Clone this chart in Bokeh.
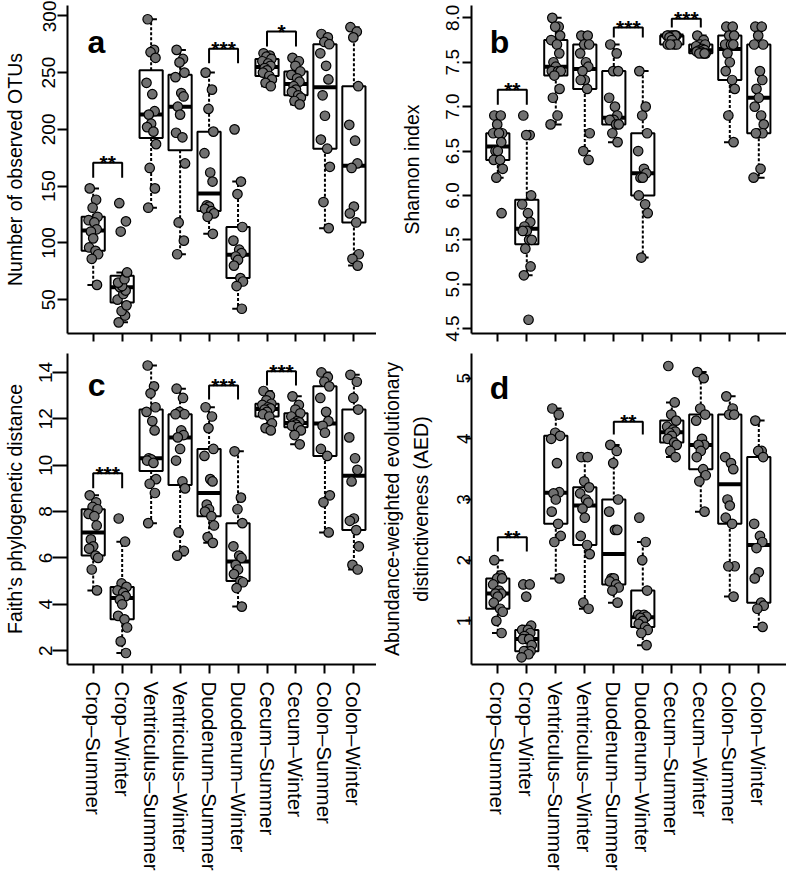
import math
from bokeh.plotting import figure
from bokeh.layouts import gridplot
from bokeh.models import FixedTicker, PrintfTickFormatter, Range1d
from bokeh.core.properties import value
from bokeh.embed import file_html
from bokeh.resources import INLINE

FONT = "Liberation Sans"

categories = ["Crop\u2013Summer", "Crop\u2013Winter", "Ventriculus\u2013Summer", "Ventriculus\u2013Winter",
              "Duodenum\u2013Summer", "Duodenum\u2013Winter", "Cecum\u2013Summer", "Cecum\u2013Winter",
              "Colon\u2013Summer", "Colon\u2013Winter"]

observed_otus = [
    [148, 138, 131, 123, 120, 118, 112, 110, 104, 96, 93, 90, 86, 63],
    [30, 36, 40, 45, 50, 55, 58, 61, 62, 65, 68, 74, 110, 119, 135],
    [297, 270, 268, 263, 241, 231, 216, 213, 205, 202, 198, 187, 166, 148, 131],
    [270, 262, 259, 250, 246, 232, 229, 220, 213, 197, 193, 170, 118, 102, 90],
    [250, 235, 218, 198, 179, 162, 154, 133, 132, 130, 128, 126, 123, 108],
    [200, 154, 143, 114, 102, 94, 91, 88, 85, 80, 69, 66, 62, 42],
    [267, 265, 264, 262, 260, 258, 256, 254, 252, 250, 247, 244, 241, 238],
    [263, 260, 256, 251, 248, 245, 242, 238, 235, 233, 230, 228, 225, 222],
    [284, 281, 277, 275, 267, 256, 244, 230, 212, 191, 183, 167, 136, 113],
    [290, 286, 281, 238, 204, 190, 170, 166, 132, 126, 118, 90, 86, 80],
]

shannon = [
    [6.9, 6.9, 6.8, 6.7, 6.7, 6.7, 6.6, 6.5, 6.5, 6.4, 6.4, 6.3, 6.2, 5.8],
    [6.9, 6.68, 6.68, 6.0, 5.9, 5.8, 5.7, 5.65, 5.6, 5.6, 5.5, 5.5, 5.4, 5.2, 5.1, 4.6],
    [8.0, 7.9, 7.9, 7.8, 7.75, 7.7, 7.6, 7.5, 7.45, 7.4, 7.4, 7.4, 7.35, 7.2, 7.1, 6.9, 6.8],
    [7.8, 7.8, 7.7, 7.7, 7.6, 7.5, 7.45, 7.4, 7.3, 7.3, 7.2, 6.7, 6.5, 6.4],
    [7.7, 7.6, 7.4, 7.4, 7.1, 7.0, 6.9, 6.85, 6.85, 6.85, 6.8, 6.8, 6.7, 6.6],
    [7.4, 7.0, 6.9, 6.7, 6.5, 6.3, 6.25, 6.2, 6.2, 6.0, 5.9, 5.8, 5.3],
    [7.8, 7.8, 7.8, 7.8, 7.8, 7.8, 7.8, 7.78, 7.75, 7.7, 7.7, 7.7, 7.7],
    [7.8, 7.75, 7.7, 7.7, 7.68, 7.65, 7.64, 7.63, 7.62, 7.62, 7.6, 7.6, 7.6, 7.6],
    [7.9, 7.9, 7.8, 7.8, 7.7, 7.7, 7.7, 7.6, 7.5, 7.4, 7.3, 7.2, 6.9, 6.6],
    [7.9, 7.9, 7.8, 7.7, 7.7, 7.4, 7.3, 7.2, 7.1, 7.0, 6.9, 6.8, 6.7, 6.7, 6.7, 6.3, 6.2],
]

faith_pd = [
    [8.7, 8.4, 8.2, 8.1, 7.9, 7.8, 7.4, 6.8, 6.5, 6.4, 6.1, 6.0, 5.5, 4.6],
    [7.7, 6.7, 4.9, 4.75, 4.6, 4.5, 4.35, 4.2, 4.0, 3.5, 3.35, 3.0, 2.4, 1.9],
    [14.3, 13.4, 13.1, 12.5, 12.3, 11.9, 11.5, 10.3, 10.25, 10.2, 10.1, 9.4, 9.2, 8.8, 7.5],
    [13.3, 12.9, 12.3, 12.2, 12.2, 11.5, 11.3, 11.2, 10.7, 10.2, 9.3, 9.0, 7.1, 6.3, 6.1],
    [12.5, 12.1, 11.6, 10.7, 10.4, 9.4, 9.3, 8.3, 8.1, 8.0, 7.8, 7.4, 6.9, 6.65],
    [10.6, 8.6, 8.1, 7.5, 6.5, 6.1, 6.0, 5.7, 5.5, 5.3, 5.0, 4.95, 4.7, 3.9],
    [13.2, 13.0, 12.8, 12.65, 12.6, 12.5, 12.45, 12.4, 12.3, 12.2, 12.1, 11.8, 11.6, 11.5],
    [12.97, 12.6, 12.4, 12.24, 12.1, 11.9, 11.85, 11.8, 11.75, 11.7, 11.64, 11.5, 11.3, 10.9],
    [14.0, 13.8, 13.6, 13.4, 12.9, 12.3, 11.9, 11.7, 11.4, 10.7, 10.4, 8.7, 8.4, 7.1],
    [13.9, 13.6, 12.9, 12.4, 11.2, 10.3, 9.8, 9.3, 7.7, 7.6, 7.2, 6.5, 5.7, 5.5],
]

aed = [
    [2.0, 1.75, 1.7, 1.7, 1.6, 1.5, 1.45, 1.45, 1.4, 1.3, 1.2, 1.15, 1.0, 0.8],
    [1.6, 1.6, 1.4, 0.92, 0.85, 0.85, 0.8, 0.75, 0.7, 0.7, 0.7, 0.6, 0.5, 0.5, 0.5, 0.45, 0.4],
    [4.5, 4.4, 4.1, 4.05, 4.0, 3.6, 3.12, 3.1, 3.0, 2.8, 2.6, 2.4, 2.3, 1.7],
    [3.7, 3.7, 3.3, 3.2, 3.1, 3.0, 2.95, 2.85, 2.7, 2.4, 2.25, 2.1, 1.3, 1.2],
    [3.9, 3.8, 3.6, 3.0, 2.8, 2.5, 2.5, 1.7, 1.7, 1.65, 1.6, 1.55, 1.5, 1.3],
    [2.7, 2.3, 2.0, 1.5, 1.1, 1.1, 1.07, 1.05, 1.0, 0.95, 0.9, 0.85, 0.8, 0.6],
    [5.2, 4.6, 4.4, 4.3, 4.2, 4.15, 4.12, 4.1, 4.05, 4.0, 3.94, 3.9, 3.8, 3.7],
    [5.1, 5.0, 4.5, 4.4, 4.3, 4.0, 3.9, 3.9, 3.8, 3.7, 3.5, 3.4, 3.3, 2.8],
    [4.7, 4.5, 4.4, 4.4, 3.7, 3.6, 3.5, 3.0, 2.9, 2.7, 2.6, 1.9, 1.9, 1.4],
    [4.3, 3.8, 3.8, 3.7, 2.6, 2.4, 2.3, 2.2, 1.8, 1.7, 1.3, 1.25, 1.2, 0.9],
]

otus_ticks = [50, 100, 150, 200, 250, 300]
shannon_ticks = [4.5, 5.0, 5.5, 6.0, 6.5, 7.0, 7.5, 8.0]
faith_ticks = [2, 4, 6, 8, 10, 12, 14]
aed_ticks = [1, 2, 3, 4, 5]

# significance brackets: (left group, right group, bracket top, leg bottom, label)
otus_sig = [(1, 2, 170.6, 157.4, "**"), (5, 6, 270.9, 258.2, "***"), (7, 8, 286.2, 273.0, "*")]
shannon_sig = [(1, 2, 7.19, 7.02, "**"), (5, 6, 7.89, 7.78, "***"), (7, 8, 7.99, 7.89, "***")]
faith_sig = [(1, 2, 9.65, 9.01, "***"), (5, 6, 13.44, 12.83, "***"), (7, 8, 14.05, 13.44, "***")]
aed_sig = [(1, 2, 2.38, 2.145, "**"), (5, 6, 4.28, 4.07, "**")]

JITTER = [-0.12, 0.10, -0.02, 0.15, -0.16, 0.04, 0.12, -0.08, 0.0, -0.14, 0.08, 0.17, -0.05, 0.13, -0.10, 0.06, -0.18]


def fivenum(v):
    xs = sorted(v)
    n = len(xs)
    n4 = math.floor((n + 3) / 2) / 2
    d = [1, n4, (n + 1) / 2, n + 1 - n4, n]
    return [0.5 * (xs[math.floor(di) - 1] + xs[math.ceil(di) - 1]) for di in d]


def box_stats(v):
    mn, q1, med, q3, mx = fivenum(v)
    iqr = q3 - q1
    lo = min(x for x in v if x >= q1 - 1.5 * iqr - 1e-9)
    hi = max(x for x in v if x <= q3 + 1.5 * iqr + 1e-9)
    return q1, med, q3, lo, hi


def make_panel(values, ticks, y_range, x_range, width, height, border_left, border_top, border_bottom,
               letter, letter_xy, sig, ylabel, show_x_labels, ytick_out, ylab_standoff,
               yaxis_label_standoff, xtick_out, fmt=None):
    p = figure(width=width, height=height, x_range=Range1d(*x_range), y_range=Range1d(*y_range),
               output_backend="svg", toolbar_location=None, tools="",
               min_border_left=border_left, min_border_right=0, min_border_top=border_top,
               min_border_bottom=border_bottom)
    p.outline_line_color = None
    p.grid.visible = False
    p.background_fill_color = "white"
    p.border_fill_color = "white"

    xs = list(range(1, len(values) + 1))
    stats = [box_stats(v) for v in values]
    q1 = [s[0] for s in stats]
    med = [s[1] for s in stats]
    q3 = [s[2] for s in stats]
    lo = [s[3] for s in stats]
    hi = [s[4] for s in stats]
    hw = 0.4
    sw = 0.2

    p.segment(x0=xs, y0=q3, x1=xs, y1=hi, line_color="black", line_width=2, line_dash="3 2")
    p.segment(x0=xs, y0=q1, x1=xs, y1=lo, line_color="black", line_width=2, line_dash="3 2")
    p.segment(x0=[x - sw for x in xs], y0=hi, x1=[x + sw for x in xs], y1=hi, line_color="black", line_width=2)
    p.segment(x0=[x - sw for x in xs], y0=lo, x1=[x + sw for x in xs], y1=lo, line_color="black", line_width=2)
    p.quad(left=[x - hw for x in xs], right=[x + hw for x in xs], bottom=q1, top=q3,
           fill_color="white", line_color="black", line_width=2)
    p.segment(x0=[x - hw for x in xs], y0=med, x1=[x + hw for x in xs], y1=med,
              line_color="black", line_width=4)

    px, py = [], []
    for x, v in zip(xs, values):
        for k, val in enumerate(v):
            px.append(x + JITTER[k % len(JITTER)])
            py.append(val)
    p.scatter(x=px, y=py, size=9.5, fill_color="#707070", line_color="black", line_width=1.2)

    for a, b, top, bot, lab in sig:
        p.multi_line(xs=[[a, a, b, b]], ys=[[bot, top, top, bot]], line_color="black", line_width=2)
        p.text(x=[(a + b) / 2], y=[top], text=[lab], text_align="center", text_baseline="alphabetic",
               text_font=value(FONT), text_font_style="bold", text_font_size="21px", text_color="black")

    p.text(x=[letter_xy[0]], y=[letter_xy[1]], text=[letter], text_align="left", text_baseline="alphabetic",
           text_font=value(FONT), text_font_style="bold", text_font_size="32px", text_color="black")

    ya = p.yaxis[0]
    ya.ticker = FixedTicker(ticks=ticks)
    if fmt:
        ya.formatter = PrintfTickFormatter(format=fmt)
    ya.major_label_orientation = "vertical"
    ya.major_label_text_font = FONT
    ya.major_label_text_font_size = "19px"
    ya.major_label_text_color = "black"
    ya.major_label_standoff = ylab_standoff
    ya.major_tick_out = ytick_out
    ya.major_tick_in = 0
    ya.minor_tick_out = 0
    ya.minor_tick_in = 0
    ya.axis_line_width = 2
    ya.major_tick_line_width = 2
    ya.axis_label = ylabel
    ya.axis_label_text_font = FONT
    ya.axis_label_text_font_size = "19.5px"
    ya.axis_label_text_font_style = "normal"
    ya.axis_label_text_color = "black"
    ya.axis_label_standoff = yaxis_label_standoff
    ya.axis_label_text_line_height = 1.3

    xa = p.xaxis[0]
    xa.ticker = FixedTicker(ticks=xs)
    xa.major_label_orientation = "vertical"
    xa.major_label_text_font = FONT
    xa.major_label_text_color = "black"
    xa.major_label_text_font_size = "20.5px"
    if show_x_labels:
        xa.major_label_overrides = {x: c for x, c in zip(xs, categories)}
        xa.major_label_standoff = 8
    else:
        xa.major_label_overrides = {x: "" for x in xs}
        xa.major_label_standoff = 0
    xa.major_tick_out = xtick_out
    xa.major_tick_in = 0
    xa.minor_tick_out = 0
    xa.minor_tick_in = 0
    xa.axis_line_width = 2
    xa.major_tick_line_width = 2
    return p


LEFT_W, RIGHT_W = 376, 410
TOP_H, BOT_H = 353, 520
LEFT_XR = (0.1126, 10.78)
RIGHT_XR = (0.093, 10.955)

pa = make_panel(observed_otus, otus_ticks, (20.2, 309.1), LEFT_XR, LEFT_W, TOP_H, 67, 5, 20,
                "a", (0.80, 276.7), otus_sig, "Number of observed OTUs", False, 10, 2, 14, 8)
pb = make_panel(shannon, shannon_ticks, (4.445, 8.139), RIGHT_XR, RIGHT_W, TOP_H, 95, 5, 20,
                "b", (0.72, 7.725), shannon_sig, "Shannon index", False, 9, 3, 21, 8, fmt="%.1f")
pc = make_panel(faith_pd, faith_ticks, (1.403, 14.818), LEFT_XR, LEFT_W, BOT_H, 67, 0, 192,
                "c", (0.81, 13.44), faith_sig, "Faith\u2019s phylogenetic distance", True, 15, 0, 11, 9)
pd = make_panel(aed, aed_ticks, (0.281, 5.406), RIGHT_XR, RIGHT_W, BOT_H, 95, 0, 192,
                "d", (0.72, 4.83), aed_sig,
                "Abundance-weighted evolutionary\ndistinctiveness (AED)", True, 6, -5, 23, 9)

grid = gridplot([[pa, pb], [pc, pd]], toolbar_location=None)

with open("out.html", "w") as f:
    f.write(file_html(grid, INLINE))
